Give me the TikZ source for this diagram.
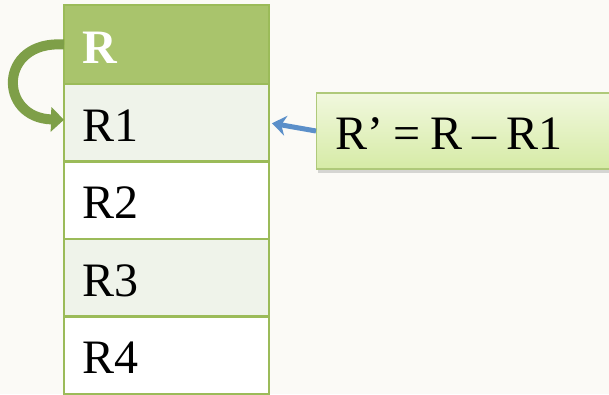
\documentclass[tikz,border=0pt]{standalone}
\usepackage{fontspec}
\setmainfont{Liberation Serif}
\definecolor{paper}{HTML}{FBFAF6}
\definecolor{leaf}{HTML}{9BBB59}
\definecolor{leafhead}{HTML}{A9C46C}
\definecolor{leafpale}{HTML}{EFF3EA}
\definecolor{olive}{HTML}{7E9F48}
\definecolor{sky}{HTML}{5B8FC9}
\definecolor{limetop}{HTML}{F1F8DE}
\definecolor{limebot}{HTML}{D6EBA6}
\usetikzlibrary{arrows.meta,positioning,shadows}
\newcommand{\rowfont}{\fontsize{48}{54}\selectfont}

\begin{document}
\begin{tikzpicture}[x=1pt,y=-1pt,
  row/.style={draw=leaf,line width=2.5pt,outer sep=0pt,minimum width=205pt,
    minimum height=77.5pt,inner xsep=18pt,text width=169pt,align=left,font=\rowfont,
    text height=37pt,text depth=0pt},
  callout/.style={draw=leaf!80,line width=1.2pt,top color=limetop,bottom color=limebot,
    minimum width=320pt,minimum height=76pt,inner xsep=19pt,text width=282pt,align=left,
    font=\rowfont,text height=36pt,text depth=0pt,
    drop shadow={shadow xshift=1pt,shadow yshift=-4pt,opacity=0.3}}]
  \clip (0,0) rectangle (609,394);
  \fill[paper] (0,0) rectangle (609,394);
  % table of relations
  \node[row,fill=leafhead,text=white,font=\rowfont\bfseries,minimum height=79pt,anchor=north west] (hdr) at (64,5) {R};
  \node[row,fill=leafpale,below=0pt of hdr] (r1) {R1};
  \node[row,fill=white,below=0pt of r1] (r2) {R2};
  \node[row,fill=leafpale,below=0pt of r2] (r3) {R3};
  \node[row,fill=white,below=0pt of r3] (r4) {R4};
  % formula box
  \node[callout,anchor=west] (eq) at (316,131) {\spaceskip=10pt R’ = R – R1};
  % arrows
  \draw[sky,line width=5pt,shorten >=3pt,-{Stealth[length=14pt,width=20pt]}] (eq.west) -- (r1.east);
  \draw[olive,line width=10pt,-{Triangle[length=13pt,width=24pt]}]
    (hdr.west) .. controls (-2,40) and (-2,118) .. ([yshift=3pt]r1.west);
\end{tikzpicture}
\end{document}
